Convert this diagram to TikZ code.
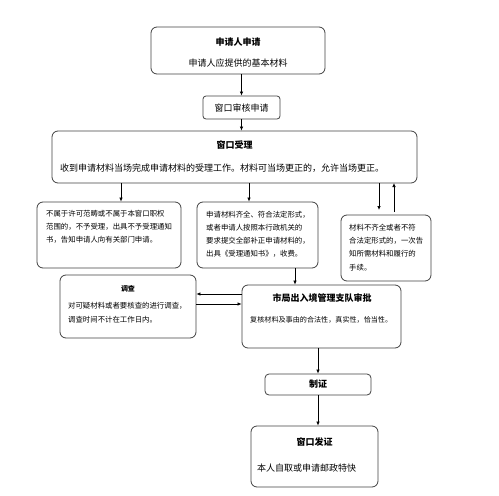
\documentclass[tikz,border=0pt]{standalone}
\usepackage{fontspec}
\setmainfont{Noto Sans CJK SC}
\usetikzlibrary{arrows.meta}
\tikzset{
  box/.style={draw=black!75, line width=0.8pt, rounded corners=6pt, inner sep=0pt},
  arr/.style={draw=black, line width=0.7pt, -{Latex[length=4pt,width=3.5pt]}},
  ttl/.style={font=\fontsize{9}{10}\selectfont\bfseries, inner sep=0pt},
  big/.style={font=\fontsize{9}{10}\selectfont, inner sep=0pt, anchor=west},
  sml/.style={font=\fontsize{7.4}{8}\selectfont, inner sep=0pt, anchor=west},
}
\begin{document}
\begin{tikzpicture}[x=1pt,y=-1pt]
\useasboundingbox (0,0) rectangle (499,496);
% boxes
\node[box, minimum width=174pt, minimum height=47pt] (b1) at (238,50.5) {};
\node[box, rounded corners=3pt, minimum width=77pt, minimum height=23pt] (b2) at (241.5,107.5) {};
\node[box, minimum width=365pt, minimum height=52pt] (b3) at (234.5,157) {};
\node[box, minimum width=144pt, minimum height=66pt] (b4) at (109,235) {};
\node[box, minimum width=121pt, minimum height=66pt] (b5) at (257.5,235) {};
\node[box, minimum width=90pt, minimum height=66pt] (b6) at (386,248) {};
\node[box, minimum width=159pt, minimum height=63pt] (b7) at (321.5,316.5) {};
\node[box, minimum width=136pt, minimum height=63pt] (b8) at (128,306.5) {};
\node[box, rounded corners=4pt, minimum width=106pt, minimum height=21pt] (b9) at (318,384.5) {};
\node[box, minimum width=127pt, minimum height=61pt] (b10) at (314.5,456.5) {};
% texts
\node[ttl] (t1a) at (238,42) {申请人申请};
\node[big, anchor=center] (t1b) at (238,63) {申请人应提供的基本材料};
\node[big, anchor=center] (t2) at (241.5,108) {窗口审核申请};
\node[ttl] (t3a) at (234.5,145) {窗口受理};
\node[big] (t3b) at (60,168) {收到申请材料当场完成申请材料的受理工作。材料可当场更正的，允许当场更正。};
\node[sml] (t4a) at (46,214) {不属于许可范畴或不属于本窗口职权};
\node[sml] (t4b) at (46,227) {范围的，不予受理，出具不予受理通知};
\node[sml] (t4c) at (46,240) {书，告知申请人向有关部门申请。};
\node[sml] (t5a) at (206,215) {申请材料齐全、符合法定形式，};
\node[sml] (t5b) at (206,228) {或者申请人按照本行政机关的};
\node[sml] (t5c) at (206,241) {要求提交全部补正申请材料的，};
\node[sml] (t5d) at (206,254) {出具《受理通知书》，收费。};
\node[sml] (t6a) at (349,228) {材料不齐全或者不符};
\node[sml] (t6b) at (349,241) {合法定形式的，一次告};
\node[sml] (t6c) at (349,254) {知所需材料和履行的};
\node[sml] (t6d) at (349,268) {手续。};
\node[ttl, font=\fontsize{7}{8}\selectfont\bfseries] (t8a) at (128,289) {调查};
\node[sml] (t8b) at (68,306) {对可疑材料或者要核查的进行调查，};
\node[sml] (t8c) at (68,320) {调查时间不计在工作日内。};
\node[ttl] (t7a) at (322,298) {市局出入境管理支队审批};
\node[sml, font=\fontsize{7.1}{8}\selectfont] (t7b) at (250,320) {复核材料及事由的合法性，真实性，恰当性。};
\node[ttl] (t9) at (318,384.5) {制证};
\node[ttl] (t10a) at (314.5,442) {窗口发证};
\node[big] (t10b) at (257,468) {本人自取或申请邮政特快};
% connector coordinates
\coordinate (c34) at (121,183);
\coordinate (c35) at (249,183);
\coordinate (c36a) at (379,183);
\coordinate (c36b) at (379,210);
\coordinate (c63a) at (394,212);
\coordinate (c63b) at (394,183);
\coordinate (c57) at (295,268);
\coordinate (c78) at (242,294);
\coordinate (c87) at (196,304);
% connectors
\draw[arr] (b2.north |- b1.south) -- (b2.north);
\draw[arr] (b2.south) -- (b2.south |- b3.north);
\draw[arr] (c34) -- (c34 |- b4.north);
\draw[arr] (c35) -- (c35 |- b5.north);
\draw[arr] (c36a) -- (c36b);
\draw[arr] (c63a) -- (c63b);
\draw[arr] (c57) -- (c57 |- b7.north);
\draw[arr] (c78) -- (c78 -| b8.east);
\draw[arr] (c87) -- (c87 -| b7.west);
\draw[arr] (b9.north |- b7.south) -- (b9.north);
\draw[arr] (b9.south) -- (b10.north -| b9.south);
\end{tikzpicture}
\end{document}
